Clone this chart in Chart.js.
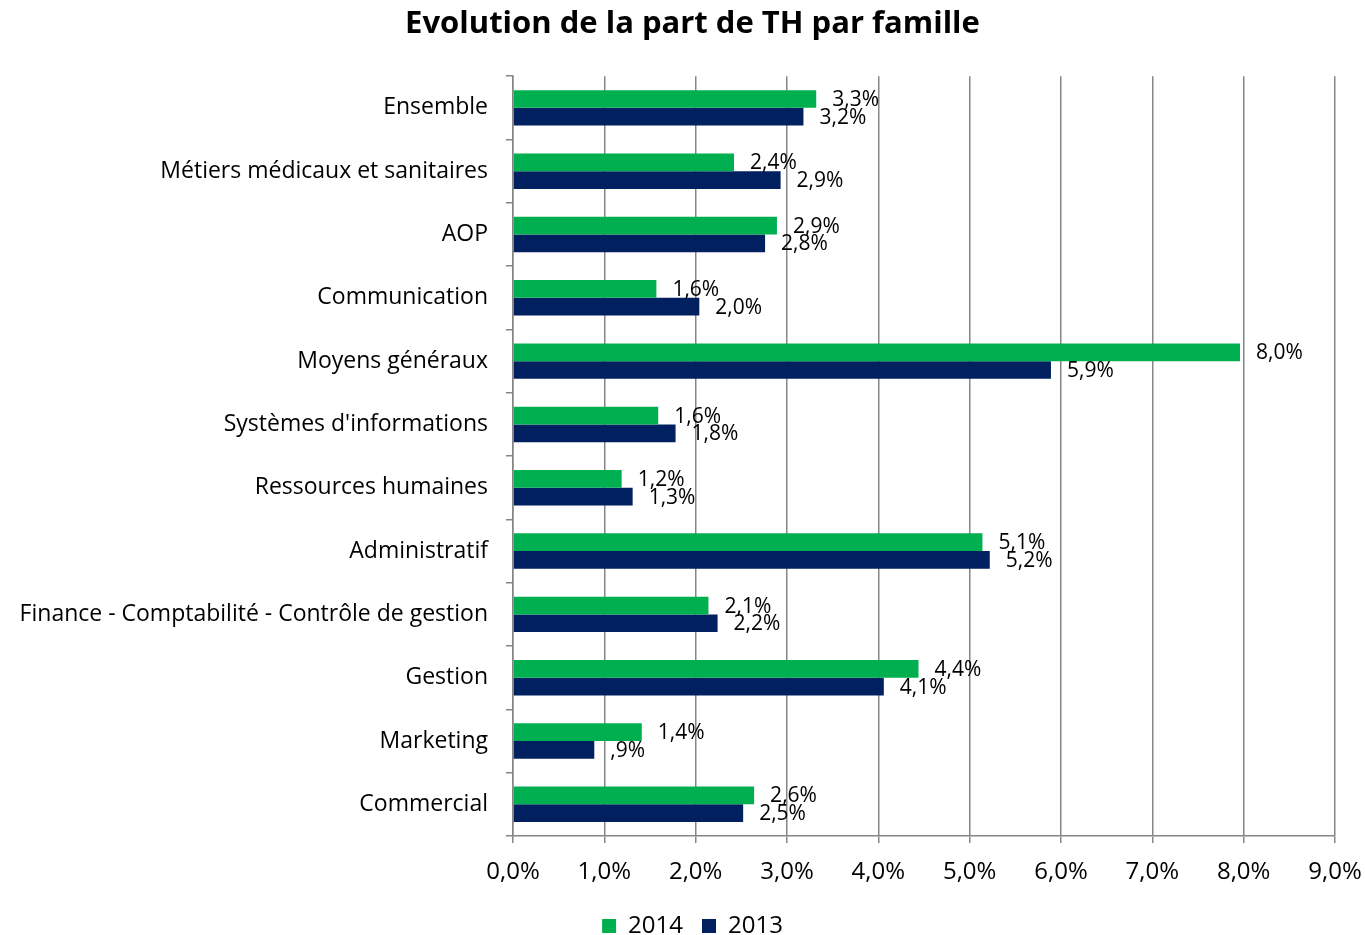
<!DOCTYPE html>
<html>
<head>
<meta charset="utf-8">
<script src="https://cdn.jsdelivr.net/npm/chart.js@4.4.1/dist/chart.umd.min.js"></script>
<style>
  html, body { margin: 0; padding: 0; background: #ffffff; }
  #wrap { width: 1365px; height: 935px; }
</style>
</head>
<body>
<div id="wrap"><canvas id="c" width="1365" height="935"></canvas></div>
<script>
// Share of TH staff per job family, 2014 vs 2013 (percent)
const categories = [
  "Ensemble",
  "Métiers médicaux et sanitaires",
  "AOP",
  "Communication",
  "Moyens généraux",
  "Systèmes d'informations",
  "Ressources humaines",
  "Administratif",
  "Finance - Comptabilité - Contrôle de gestion",
  "Gestion",
  "Marketing",
  "Commercial"
];
const values2014 = [3.32, 2.42, 2.89, 1.57, 7.96, 1.59, 1.19, 5.14, 2.14, 4.44, 1.41, 2.64];
const values2013 = [3.18, 2.93, 2.76, 2.04, 5.89, 1.78, 1.31, 5.22, 2.24, 4.06, 0.89, 2.52];
const xTicks = [0, 1, 2, 3, 4, 5, 6, 7, 8, 9];

const FONT = "'Open Sans', sans-serif";
const GREEN = "#00B050";
const NAVY = "#002060";
const GRID = "#868686";

// French style percent with one decimal; leading zero dropped below 1
function pct(v) {
  let s = v.toFixed(1).replace(".", ",");
  if (s.startsWith("0")) s = s.slice(1);
  return s + "%";
}

// Value labels written just past the end of each bar
const valueLabels = {
  id: "valueLabels",
  afterDatasetsDraw(chart) {
    const ctx = chart.ctx;
    ctx.save();
    ctx.font = "21px " + FONT;
    ctx.fillStyle = "#000000";
    ctx.textAlign = "left";
    ctx.textBaseline = "middle";
    chart.data.datasets.forEach((ds, di) => {
      const meta = chart.getDatasetMeta(di);
      meta.data.forEach((bar, i) => {
        ctx.fillText(pct(ds.data[i]), bar.x + 16, bar.y + 1);
      });
    });
    ctx.restore();
  }
};

new Chart(document.getElementById("c"), {
  type: "bar",
  data: {
    labels: categories,
    datasets: [
      { label: "2014", data: values2014, backgroundColor: GREEN, borderWidth: 0 },
      { label: "2013", data: values2013, backgroundColor: NAVY, borderWidth: 0 }
    ]
  },
  options: {
    indexAxis: "y",
    responsive: false,
    animation: false,
    devicePixelRatio: 1,
    layout: { padding: { left: 20, right: 0, top: 0, bottom: -13 } },
    datasets: { bar: { categoryPercentage: 0.56, barPercentage: 1.0 } },
    plugins: {
      title: {
        display: true,
        text: "Evolution de la part de TH par famille",
        color: "#000000",
        font: { family: FONT, size: 31, weight: "bold" },
        padding: { top: 6, bottom: 33 }
      },
      legend: {
        display: true,
        position: "bottom",
        labels: {
          color: "#000000",
          font: { family: FONT, size: 24 },
          boxWidth: 14,
          boxHeight: 14,
          padding: 19
        }
      },
      tooltip: { enabled: false }
    },
    scales: {
      x: {
        min: 0,
        max: 9,
        afterBuildTicks(scale) { scale.ticks = xTicks.map(v => ({ value: v })); },
        ticks: {
          color: "#000000",
          font: { family: FONT, size: 24 },
          padding: 15,
          callback: v => v.toFixed(1).replace(".", ",") + "%"
        },
        grid: { color: GRID, lineWidth: 1.5, tickLength: 7, drawTicks: true },
        border: { color: GRID, width: 1.5 },
        afterFit(scale) {
          scale.height = 59;
          scale.paddingLeft = 0;
          scale.paddingRight = 30;
        }
      },
      y: {
        ticks: {
          color: "#000000",
          font: { family: FONT, size: 23 },
          padding: 18
        },
        grid: { color: GRID, lineWidth: 1.5, offset: true, drawOnChartArea: false, tickLength: 7 },
        border: { color: GRID, width: 1.5 },
        afterFit(scale) {
          scale.width = 493;
          // long category names may extend past the scale box to the canvas edge
          scale._computeLabelArea = () => undefined;
        }
      }
    }
  },
  plugins: [valueLabels]
});
</script>
</body>
</html>
